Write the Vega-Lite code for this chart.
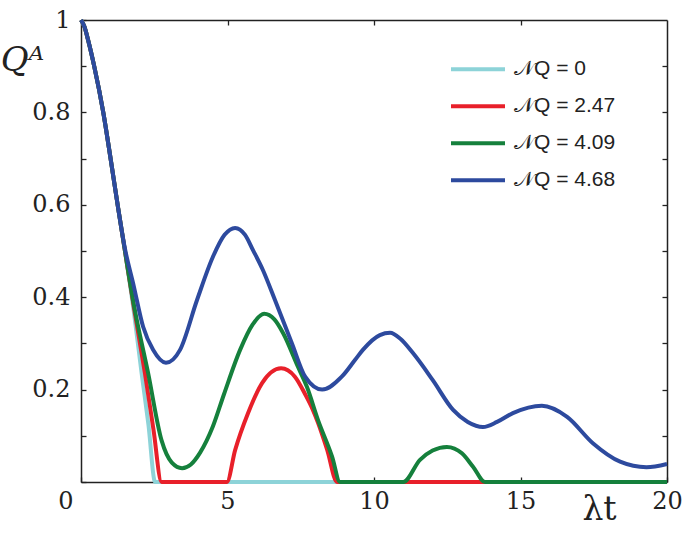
{
  "$schema": "https://vega.github.io/schema/vega-lite/v6.json",
  "width": 586,
  "height": 462,
  "autosize": "none",
  "padding": {"left": 81, "top": 20, "right": 18, "bottom": 52},
  "background": "white",
  "config": {
    "view": {"stroke": null},
    "axis": {"grid": false, "domainColor": "#222", "domainWidth": 1.5, "tickColor": "#222", "tickWidth": 1.3, "labelColor": "#222", "titleColor": "#222", "titleFontWeight": "normal"}
  },
  "data": {"values": [
    {"series":"0","t":0,"q":1},{"series":"0","t":0.12,"q":0.985},{"series":"0","t":0.24,"q":0.957},{"series":"0","t":0.45,"q":0.9},{"series":"0","t":0.76,"q":0.8},{"series":"0","t":1.01,"q":0.7},{"series":"0","t":1.25,"q":0.6},{"series":"0","t":1.5,"q":0.5},{"series":"0","t":1.8,"q":0.37},{"series":"0","t":2.07,"q":0.235},{"series":"0","t":2.3,"q":0.125},{"series":"0","t":2.53,"q":0},{"series":"0","t":5,"q":0},{"series":"0","t":10,"q":0},{"series":"0","t":15,"q":0},{"series":"0","t":20,"q":0},

    {"series":"2.47","t":0,"q":1},{"series":"2.47","t":0.12,"q":0.985},{"series":"2.47","t":0.24,"q":0.957},{"series":"2.47","t":0.45,"q":0.9},{"series":"2.47","t":0.76,"q":0.8},{"series":"2.47","t":1.01,"q":0.7},{"series":"2.47","t":1.25,"q":0.6},{"series":"2.47","t":1.5,"q":0.5},{"series":"2.47","t":1.8,"q":0.38},{"series":"2.47","t":2.18,"q":0.236},{"series":"2.47","t":2.47,"q":0.115},{"series":"2.47","t":2.75,"q":0},{"series":"2.47","t":4.98,"q":0},{"series":"2.47","t":5.26,"q":0.069},{"series":"2.47","t":5.7,"q":0.149},{"series":"2.47","t":6.18,"q":0.214},{"series":"2.47","t":6.83,"q":0.246},{"series":"2.47","t":7.3,"q":0.228},{"series":"2.47","t":7.65,"q":0.19},{"series":"2.47","t":7.9,"q":0.158},{"series":"2.47","t":8.09,"q":0.128},{"series":"2.47","t":8.4,"q":0.07},{"series":"2.47","t":8.74,"q":0},{"series":"2.47","t":11,"q":0},{"series":"2.47","t":13.79,"q":0},{"series":"2.47","t":20,"q":0},

    {"series":"4.09","t":0,"q":1},{"series":"4.09","t":0.12,"q":0.985},{"series":"4.09","t":0.24,"q":0.957},{"series":"4.09","t":0.45,"q":0.9},{"series":"4.09","t":0.76,"q":0.8},{"series":"4.09","t":1.01,"q":0.7},{"series":"4.09","t":1.25,"q":0.6},{"series":"4.09","t":1.5,"q":0.5},{"series":"4.09","t":1.8,"q":0.385},{"series":"4.09","t":2.29,"q":0.236},{"series":"4.09","t":2.75,"q":0.09},{"series":"4.09","t":3.1,"q":0.042},{"series":"4.09","t":3.45,"q":0.03},{"series":"4.09","t":3.75,"q":0.038},{"series":"4.09","t":4.06,"q":0.063},{"series":"4.09","t":4.5,"q":0.12},{"series":"4.09","t":4.88,"q":0.19},{"series":"4.09","t":5.43,"q":0.286},{"series":"4.09","t":5.85,"q":0.34},{"series":"4.09","t":6.25,"q":0.364},{"series":"4.09","t":6.6,"q":0.352},{"series":"4.09","t":6.9,"q":0.322},{"series":"4.09","t":7.4,"q":0.25},{"series":"4.09","t":7.71,"q":0.206},{"series":"4.09","t":8.09,"q":0.134},{"series":"4.09","t":8.57,"q":0.055},{"series":"4.09","t":8.84,"q":0},{"series":"4.09","t":11,"q":0},{"series":"4.09","t":11.57,"q":0.048},{"series":"4.09","t":12.0,"q":0.068},{"series":"4.09","t":12.49,"q":0.076},{"series":"4.09","t":13.0,"q":0.062},{"series":"4.09","t":13.38,"q":0.033},{"series":"4.09","t":13.79,"q":0},{"series":"4.09","t":20,"q":0},

    {"series":"4.68","t":0,"q":1},{"series":"4.68","t":0.12,"q":0.985},{"series":"4.68","t":0.24,"q":0.957},{"series":"4.68","t":0.45,"q":0.9},{"series":"4.68","t":0.76,"q":0.8},{"series":"4.68","t":1.01,"q":0.7},{"series":"4.68","t":1.25,"q":0.6},{"series":"4.68","t":1.5,"q":0.505},{"series":"4.68","t":1.78,"q":0.43},{"series":"4.68","t":2.12,"q":0.336},{"series":"4.68","t":2.46,"q":0.286},{"series":"4.68","t":2.9,"q":0.258},{"series":"4.68","t":3.38,"q":0.286},{"series":"4.68","t":3.96,"q":0.394},{"series":"4.68","t":4.5,"q":0.487},{"series":"4.68","t":4.9,"q":0.535},{"series":"4.68","t":5.26,"q":0.55},{"series":"4.68","t":5.6,"q":0.535},{"series":"4.68","t":5.87,"q":0.502},{"series":"4.68","t":6.2,"q":0.46},{"series":"4.68","t":6.62,"q":0.394},{"series":"4.68","t":7.2,"q":0.3},{"series":"4.68","t":7.65,"q":0.228},{"series":"4.68","t":8.23,"q":0.2},{"series":"4.68","t":8.9,"q":0.228},{"series":"4.68","t":9.35,"q":0.264},{"series":"4.68","t":9.62,"q":0.286},{"series":"4.68","t":10.2,"q":0.318},{"series":"4.68","t":10.55,"q":0.323},{"series":"4.68","t":10.9,"q":0.31},{"series":"4.68","t":11.33,"q":0.279},{"series":"4.68","t":12.0,"q":0.221},{"series":"4.68","t":12.7,"q":0.156},{"series":"4.68","t":13.2,"q":0.13},{"series":"4.68","t":13.72,"q":0.119},{"series":"4.68","t":14.2,"q":0.13},{"series":"4.68","t":14.74,"q":0.149},{"series":"4.68","t":15.73,"q":0.165},{"series":"4.68","t":16.59,"q":0.141},{"series":"4.68","t":17.47,"q":0.084},{"series":"4.68","t":18.4,"q":0.044},{"series":"4.68","t":19.3,"q":0.032},{"series":"4.68","t":20,"q":0.039}
  ]},
  "layer": [
    {
      "mark": {"type": "line", "strokeWidth": 4, "interpolate": "monotone"},
      "encoding": {
        "x": {"field": "t", "type": "quantitative", "scale": {"domain": [0, 20], "nice": false},
          "axis": {"orient": "bottom", "values": [0, 5, 10, 15, 20], "tickSize": -5, "labelPadding": 12, "labelFlush": false,
            "labelFont": "DejaVu Serif", "labelFontSize": 24,
            "labelAlign": {"condition": {"test": "datum.value == 0", "value": "right"}, "value": "center"},
            "labelOffset": {"condition": {"test": "datum.value == 0", "value": -8}, "value": 0},
            "title": "λt", "titleFont": "DejaVu Serif", "titleFontSize": 33, "titleX": 518, "titleY": 27, "titleAlign": "center", "titleBaseline": "middle"}},
        "y": {"field": "q", "type": "quantitative", "scale": {"domain": [0, 1], "nice": false},
          "axis": {"orient": "left", "values": [0, 0.1, 0.2, 0.3, 0.4, 0.5, 0.6, 0.7, 0.8, 0.9, 1], "tickSize": -5, "labelPadding": 16, "labelFlush": false,
            "labelFont": "DejaVu Serif", "labelFontSize": 24,
            "labelExpr": "datum.value == 1 ? '1' : ((datum.value > 0 && round(datum.value * 10) % 2 == 0) ? format(datum.value, '.1f') : '')",
            "title": "Qᴬ", "titleFont": "DejaVu Serif", "titleFontSize": 34, "titleFontStyle": "italic", "titleAngle": 0, "titleX": -59, "titleY": 40, "titleAlign": "center", "titleBaseline": "middle"}},
        "color": {"field": "series", "type": "nominal",
          "scale": {"domain": ["0", "2.47", "4.09", "4.68"], "range": ["#8dd3d8", "#e8202a", "#15803c", "#2d4a9e"]},
          "legend": {"orient": "none", "legendX": 368, "legendY": 31, "title": null, "padding": 0, "symbolType": "stroke", "symbolSize": 2916, "symbolStrokeWidth": 4, "labelFont": "Liberation Sans", "labelFontSize": 21, "labelColor": "#222", "labelOffset": 7, "rowPadding": 0, "clipHeight": 36.5, "labelExpr": "'𝒩Q = ' + datum.label"}}
      }
    },
    {
      "mark": {"type": "line", "strokeOpacity": 0},
      "encoding": {
        "x": {"field": "t", "type": "quantitative", "axis": {"orient": "top", "values": [5, 10, 15], "tickSize": -5, "labels": false, "title": null}},
        "y": {"field": "q", "type": "quantitative", "axis": {"orient": "right", "values": [0.1, 0.2, 0.3, 0.4, 0.5, 0.6, 0.7, 0.8, 0.9], "tickSize": -5, "labels": false, "title": null}}
      }
    }
  ],
  "resolve": {"axis": {"x": "independent", "y": "independent"}}
}
